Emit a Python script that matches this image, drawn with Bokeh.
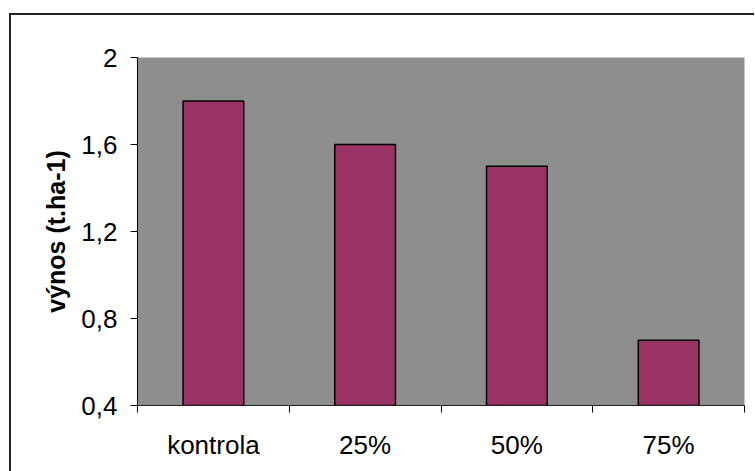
from bokeh.plotting import figure
from bokeh.models import ColumnDataSource, FixedTicker, Range1d, InlineStyleSheet
from bokeh.embed import file_html
from bokeh.resources import INLINE

# yield per treatment
categories = ["kontrola", "25%", "50%", "75%"]
yields = [1.8, 1.6, 1.5, 0.7]
y_ticks = [0.4, 0.8, 1.2, 1.6, 2.0]
y_tick_labels = ["0,4", "0,8", "1,2", "1,6", "2"]

FONT = "Liberation Sans"

centers = [i + 0.5 for i in range(len(categories))]
bounds = [float(i) for i in range(len(categories) + 1)]

src = ColumnDataSource(dict(x=centers, top=yields, cat=categories))

# white page with a thin frame line around the chart area
frame_css = InlineStyleSheet(css="""
:host {
  background-color: white;
  background-image: linear-gradient(#222, #222), linear-gradient(#222, #222);
  background-repeat: no-repeat;
  background-size: 745px 2px, 2px 480px;
  background-position: 9px 13px, 9px 13px;
}
""")

p = figure(width=755, height=471, output_backend="svg", toolbar_location=None,
           x_range=Range1d(0, len(categories)), y_range=Range1d(y_ticks[0], y_ticks[-1]),
           min_border_left=137, min_border_right=11, min_border_top=57, min_border_bottom=66,
           stylesheets=[frame_css])

p.background_fill_color = "#8e8e8e"
p.border_fill_color = None
p.outline_line_color = None
p.grid.visible = False

p.vbar(x="x", top="top", bottom=y_ticks[0], width=0.4, source=src,
       fill_color="#993366", line_color="black", line_width=1.5)

# x axis: labels at category centres, tick marks at category boundaries
xa = p.xaxis[0]
xa.ticker = FixedTicker(ticks=centers, minor_ticks=bounds)
xa.major_label_overrides = {c: name for c, name in zip(centers, categories)}
xa.major_tick_out = 0
xa.major_tick_in = 0
xa.minor_tick_out = 7
xa.minor_tick_in = 0
xa.minor_tick_line_color = "black"
xa.axis_line_color = "#222222"
xa.major_label_standoff = 17
xa.major_label_text_font = FONT
xa.major_label_text_font_size = "26px"
xa.major_label_text_color = "black"

ya = p.yaxis[0]
ya.ticker = FixedTicker(ticks=y_ticks, minor_ticks=[])
ya.major_label_overrides = {t: s for t, s in zip(y_ticks, y_tick_labels)}
ya.major_tick_out = 7
ya.major_tick_in = 0
ya.major_tick_line_color = "black"
ya.axis_line_color = "black"
ya.major_label_standoff = 13
ya.major_label_text_font = FONT
ya.major_label_text_font_size = "26px"
ya.major_label_text_color = "black"
ya.axis_label = "výnos (t.ha-1)"
ya.axis_label_text_font = FONT
ya.axis_label_text_font_size = "25px"
ya.axis_label_text_font_style = "bold"
ya.axis_label_text_color = "black"
ya.axis_label_standoff = 8

open("out.html", "w").write(file_html(p, INLINE))
